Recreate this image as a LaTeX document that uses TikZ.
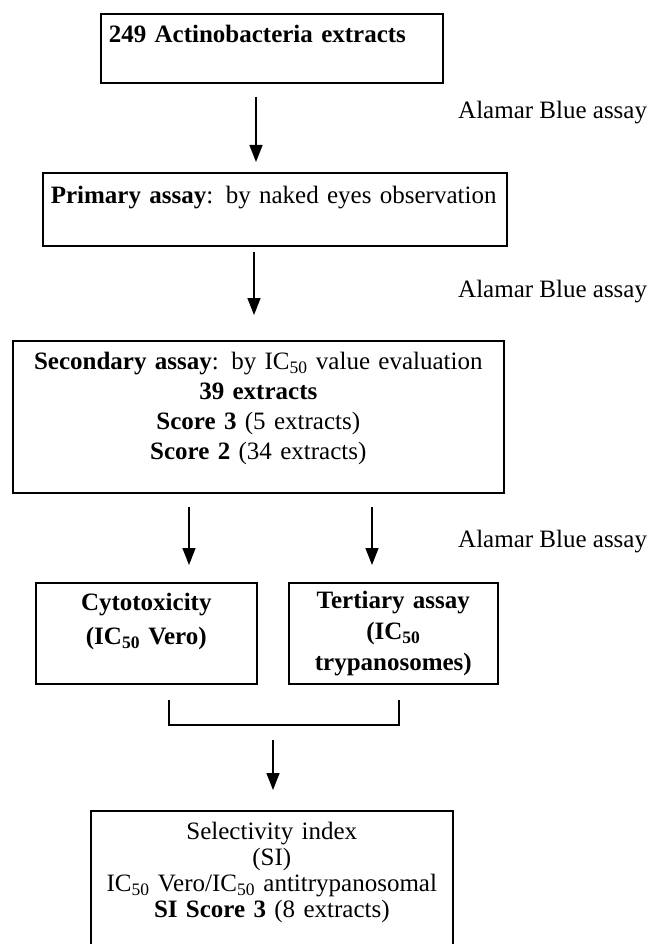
\documentclass[tikz,border=0pt]{standalone}
\usepackage{fontspec}
\setmainfont{Liberation Serif}
\usetikzlibrary{positioning,calc,arrows.meta}

\begin{document}
\begin{tikzpicture}[
    x=1pt, y=-1pt,
    stage/.style={rectangle, draw, line width=1.6pt, inner sep=0pt, anchor=north west,
        font=\fontsize{25}{29}\selectfont},
    arrow/.style={line width=1.5pt, -{Triangle[width=13pt,length=17pt]}},
    assay/.style={anchor=base west, inner sep=0pt, font=\fontsize{25}{29}\selectfont}
]
    \useasboundingbox (0,0) rectangle (652,944);

    % screening boxes, top to bottom
    \node[stage, minimum width=342pt, minimum height=69pt, text width=326pt, align=left] (src) at (100,13)
        {\textbf{249 Actinobacteria extracts}\\\mbox{}};
    \node[stage, minimum width=464pt, minimum height=73pt, text width=448pt, align=left] (prim) at (42,172)
        {\mbox{\textbf{Primary assay}: by naked eyes observation}\\\mbox{}};
    \node[stage, minimum width=491pt, minimum height=152pt, text width=475pt, align=center,
        font=\fontsize{25}{30}\selectfont] (sec) at (12,340)
        {\textbf{Secondary assay}: by IC\textsubscript{50} value evaluation\\\textbf{39 extracts}\\
         \textbf{Score 3} (5 extracts)\\\textbf{Score 2} (34 extracts)\\[-8pt]\mbox{}};
    \node[stage, minimum width=221pt, minimum height=101pt, text width=205pt, align=center,
        font=\fontsize{25}{34}\selectfont\bfseries] (cyto) at (35,582)
        {Cytotoxicity\\(IC\textsubscript{50} Vero)\\[-6pt]\mbox{}};
    \node[stage, minimum width=209pt, minimum height=101pt, text width=193pt, align=center,
        font=\fontsize{25}{31}\selectfont\bfseries] (tert) at (288,582)
        {Tertiary assay\\(IC\textsubscript{50}\\trypanosomes)};
    \node[stage, minimum width=362pt, minimum height=144pt, text width=346pt, align=center,
        font=\fontsize{25}{26}\selectfont] (si) at (90,810)
        {Selectivity index\\(SI)\\IC\textsubscript{50} Vero/IC\textsubscript{50} antitrypanosomal\\
         \textbf{SI Score 3} (8 extracts)\\\mbox{}};

    % assay labels on the right
    \node[assay] (ab1) at (458,119) {Alamar Blue assay};
    \node[assay] (ab2) at (458,297) {Alamar Blue assay};
    \node[assay] (ab3) at (458,547) {Alamar Blue assay};

    % arrows
    \coordinate (c1) at (256,0);
    \coordinate (c2) at (254,0);
    \coordinate (c3) at (189,0);
    \coordinate (c4) at (372,0);
    \draw[arrow, shorten <=13pt, shorten >=10pt] (c1 |- src.south) -- (c1 |- prim.north);
    \draw[arrow, shorten <=5pt, shorten >=25pt] (c2 |- prim.south) -- (c2 |- sec.north);
    \draw[arrow, shorten <=13pt, shorten >=17pt] (c3 |- sec.south) -- (c3 |- cyto.north);
    \draw[arrow, shorten <=13pt, shorten >=17pt] (c4 |- sec.south) -- (c4 |- tert.north);

    % bracket joining both results
    \coordinate (bl) at (169,700);
    \coordinate (br) at (399,700);
    \coordinate (bm) at (273,725);
    \draw[line width=1.5pt] (bl) -- ++(0,25) -| (br);
    \draw[arrow, shorten <=15pt, shorten >=20pt] (bm) -- (bm |- si.north);
\end{tikzpicture}
\end{document}
